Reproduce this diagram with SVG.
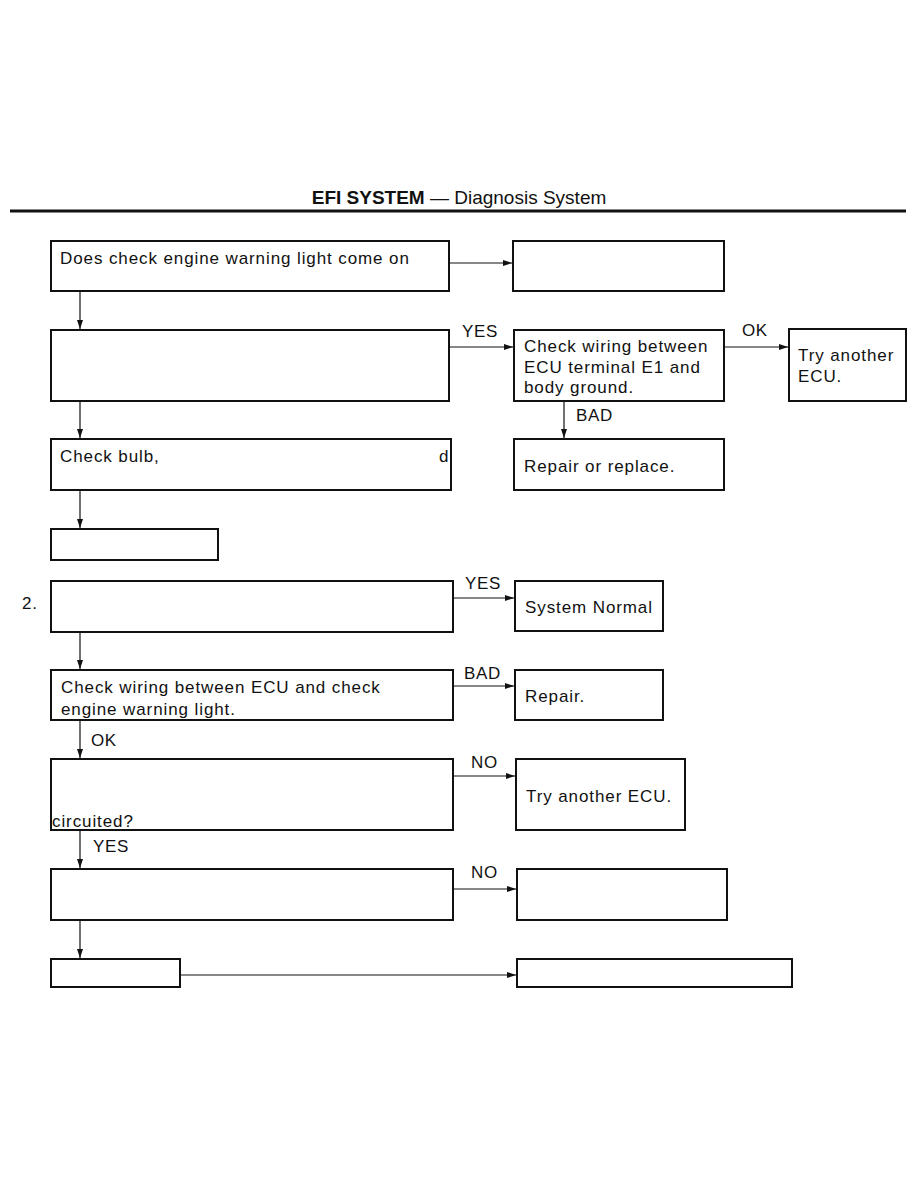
<svg xmlns="http://www.w3.org/2000/svg" width="918" height="1188" viewBox="0 0 918 1188">
<defs>
<marker id="ah" markerWidth="10" markerHeight="8" refX="9" refY="4" orient="auto" markerUnits="userSpaceOnUse">
<path d="M0,1 L9,4 L0,7 Z" fill="#111"/>
</marker>
<style>
.box{fill:#fff;stroke:#111;stroke-width:2}
.t{font-family:"Liberation Sans",Arial,sans-serif;font-size:17px;letter-spacing:0.9px;fill:#111}
.lbl{font-family:"Liberation Sans",Arial,sans-serif;font-size:17px;letter-spacing:0.6px;fill:#111}
.c{stroke:#111;stroke-width:1.2;fill:none;marker-end:url(#ah)}
</style>
</defs>
<rect width="918" height="1188" fill="#fff"/>
<g id="header">
<text x="459" y="204" text-anchor="middle" font-family="Liberation Sans,Arial,sans-serif" font-size="19" fill="#111"><tspan font-weight="bold">EFI SYSTEM</tspan> — Diagnosis System</text>
<line x1="10" y1="211" x2="906" y2="211" stroke="#111" stroke-width="3"/>
</g>
<g id="connectors">
<path class="c" d="M449,263 H512"/>
<path class="c" d="M80,291 V329"/>
<path class="c" d="M449,347 H513"/>
<path class="c" d="M724,347 H788"/>
<path class="c" d="M564,401 V438"/>
<path class="c" d="M80,401 V438"/>
<path class="c" d="M80,490 V528"/>
<path class="c" d="M453,598 H514"/>
<path class="c" d="M80,632 V669"/>
<path class="c" d="M453,686 H514"/>
<path class="c" d="M80,720 V758"/>
<path class="c" d="M453,776 H515"/>
<path class="c" d="M80,830 V868"/>
<path class="c" d="M453,889 H516"/>
<path class="c" d="M80,920 V958"/>
<path class="c" d="M180,975 H516"/>
<text class="lbl" x="462" y="337">YES</text>
<text class="lbl" x="742" y="336">OK</text>
<text class="lbl" x="576" y="421">BAD</text>
<text class="lbl" x="465" y="589">YES</text>
<text class="lbl" x="464" y="679">BAD</text>
<text class="lbl" x="91" y="746">OK</text>
<text class="lbl" x="471" y="768">NO</text>
<text class="lbl" x="93" y="852">YES</text>
<text class="lbl" x="471" y="878">NO</text>
</g>
<g id="nA"><rect class="box" x="51" y="241" width="398" height="50"/><text class="t" x="60" y="264">Does check engine warning light come on</text></g>
<g id="nB"><rect class="box" x="513" y="241" width="211" height="50"/></g>
<g id="nC"><rect class="box" x="51" y="330" width="398" height="71"/></g>
<g id="nD"><rect class="box" x="514" y="330" width="210" height="71"/><text class="t" x="524" y="352">Check wiring between</text><text class="t" x="524" y="373">ECU terminal E1 and</text><text class="t" x="524" y="393">body ground.</text></g>
<g id="nE"><rect class="box" x="789" y="329" width="117" height="72"/><text class="t" x="798" y="361">Try another</text><text class="t" x="798" y="382">ECU.</text></g>
<g id="nF"><rect class="box" x="514" y="439" width="210" height="51"/><text class="t" x="524" y="472">Repair or replace.</text></g>
<g id="nG"><rect class="box" x="51" y="439" width="400" height="51"/><text class="t" x="60" y="462">Check bulb,</text><text class="t" x="439" y="462">d</text></g>
<g id="nH"><rect class="box" x="51" y="529" width="167" height="31"/></g>
<g id="n2"><text class="t" x="22" y="609">2.</text></g>
<g id="nI"><rect class="box" x="51" y="581" width="402" height="51"/></g>
<g id="nJ"><rect class="box" x="515" y="581" width="148" height="50"/><text class="t" x="525" y="613">System Normal</text></g>
<g id="nK"><rect class="box" x="51" y="670" width="402" height="50"/><text class="t" x="61" y="693">Check wiring between ECU and check</text><text class="t" x="61" y="715">engine warning light.</text></g>
<g id="nL"><rect class="box" x="515" y="670" width="148" height="50"/><text class="t" x="525" y="702">Repair.</text></g>
<g id="nM"><rect class="box" x="51" y="759" width="402" height="71"/><text class="t" x="52" y="827">circuited?</text></g>
<g id="nN"><rect class="box" x="516" y="759" width="169" height="71"/><text class="t" x="526" y="802">Try another ECU.</text></g>
<g id="nO"><rect class="box" x="51" y="869" width="402" height="51"/></g>
<g id="nP"><rect class="box" x="517" y="869" width="210" height="51"/></g>
<g id="nQ"><rect class="box" x="51" y="959" width="129" height="28"/></g>
<g id="nR"><rect class="box" x="517" y="959" width="275" height="28"/></g>
</svg>
